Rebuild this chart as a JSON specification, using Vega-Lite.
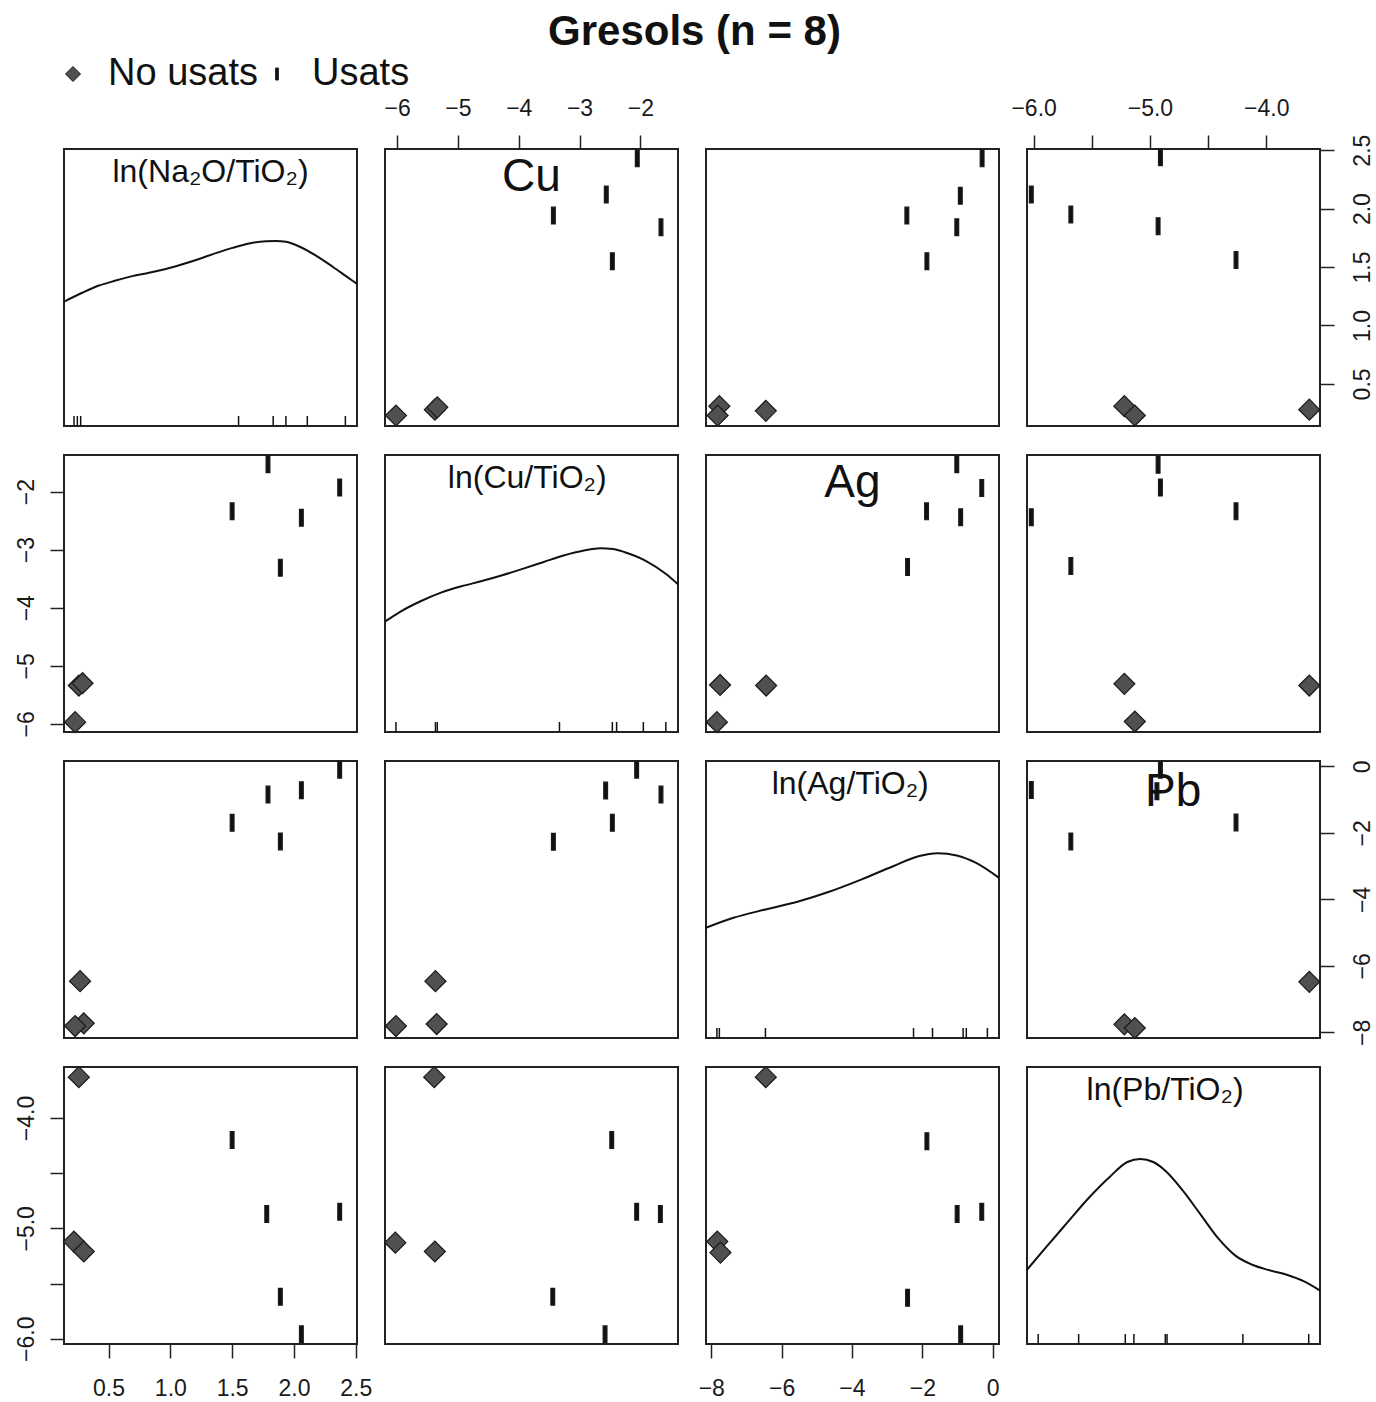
{
  "$schema": "https://vega.github.io/schema/vega-lite/v6.json",
  "padding": {"left": 14, "top": 11, "right": 5, "bottom": 5},
  "title": {"text": "Gresols (n = 8)", "fontSize": 42, "fontWeight": "bold", "anchor": "middle", "color": "#111111", "offset": 1},
  "datasets": {
    "s12": [
      {"Cu": -2.05, "Na": 2.43, "group": "Usats"}, {"Cu": -2.56, "Na": 2.12, "group": "Usats"}, {"Cu": -3.43, "Na": 1.94, "group": "Usats"}, {"Cu": -1.66, "Na": 1.84, "group": "Usats"}, {"Cu": -2.46, "Na": 1.55, "group": "Usats"},
      {"Cu": -6.02, "Na": 0.23, "group": "No usats"}, {"Cu": -5.38, "Na": 0.28, "group": "No usats"}, {"Cu": -5.34, "Na": 0.30, "group": "No usats"}
    ],
    "s13": [
      {"Ag": -0.30, "Na": 2.43, "group": "Usats"}, {"Ag": -0.92, "Na": 2.11, "group": "Usats"}, {"Ag": -2.44, "Na": 1.94, "group": "Usats"}, {"Ag": -1.02, "Na": 1.84, "group": "Usats"}, {"Ag": -1.87, "Na": 1.55, "group": "Usats"},
      {"Ag": -7.77, "Na": 0.31, "group": "No usats"}, {"Ag": -7.82, "Na": 0.23, "group": "No usats"}, {"Ag": -6.45, "Na": 0.27, "group": "No usats"}
    ],
    "s14": [
      {"Pb": -4.91, "Na": 2.44, "group": "Usats"}, {"Pb": -6.02, "Na": 2.12, "group": "Usats"}, {"Pb": -5.68, "Na": 1.95, "group": "Usats"}, {"Pb": -4.93, "Na": 1.85, "group": "Usats"}, {"Pb": -4.26, "Na": 1.56, "group": "Usats"},
      {"Pb": -5.22, "Na": 0.31, "group": "No usats"}, {"Pb": -5.13, "Na": 0.23, "group": "No usats"}, {"Pb": -3.63, "Na": 0.28, "group": "No usats"}
    ],
    "s21": [
      {"Na": 1.79, "Cu": -1.53, "group": "Usats"}, {"Na": 2.37, "Cu": -1.93, "group": "Usats"}, {"Na": 1.50, "Cu": -2.34, "group": "Usats"}, {"Na": 2.06, "Cu": -2.45, "group": "Usats"}, {"Na": 1.89, "Cu": -3.31, "group": "Usats"},
      {"Na": 0.26, "Cu": -5.34, "group": "No usats"}, {"Na": 0.29, "Cu": -5.30, "group": "No usats"}, {"Na": 0.23, "Cu": -5.97, "group": "No usats"}
    ],
    "s23": [
      {"Ag": -1.02, "Cu": -1.53, "group": "Usats"}, {"Ag": -0.31, "Cu": -1.94, "group": "Usats"}, {"Ag": -1.88, "Cu": -2.34, "group": "Usats"}, {"Ag": -0.91, "Cu": -2.44, "group": "Usats"}, {"Ag": -2.42, "Cu": -3.30, "group": "Usats"},
      {"Ag": -7.75, "Cu": -5.33, "group": "No usats"}, {"Ag": -6.44, "Cu": -5.34, "group": "No usats"}, {"Ag": -7.84, "Cu": -5.97, "group": "No usats"}
    ],
    "s24": [
      {"Pb": -4.93, "Cu": -1.54, "group": "Usats"}, {"Pb": -4.91, "Cu": -1.93, "group": "Usats"}, {"Pb": -6.02, "Cu": -2.44, "group": "Usats"}, {"Pb": -4.26, "Cu": -2.34, "group": "Usats"}, {"Pb": -5.68, "Cu": -3.28, "group": "Usats"},
      {"Pb": -5.22, "Cu": -5.31, "group": "No usats"}, {"Pb": -3.63, "Cu": -5.34, "group": "No usats"}, {"Pb": -5.13, "Cu": -5.96, "group": "No usats"}
    ],
    "s31": [
      {"Na": 2.37, "Ag": -0.10, "group": "Usats"}, {"Na": 1.79, "Ag": -0.85, "group": "Usats"}, {"Na": 2.06, "Ag": -0.72, "group": "Usats"}, {"Na": 1.50, "Ag": -1.70, "group": "Usats"}, {"Na": 1.89, "Ag": -2.26, "group": "Usats"},
      {"Na": 0.27, "Ag": -6.46, "group": "No usats"}, {"Na": 0.30, "Ag": -7.73, "group": "No usats"}, {"Na": 0.23, "Ag": -7.81, "group": "No usats"}
    ],
    "s32": [
      {"Cu": -2.06, "Ag": -0.10, "group": "Usats"}, {"Cu": -2.57, "Ag": -0.73, "group": "Usats"}, {"Cu": -1.66, "Ag": -0.85, "group": "Usats"}, {"Cu": -2.46, "Ag": -1.70, "group": "Usats"}, {"Cu": -3.43, "Ag": -2.27, "group": "Usats"},
      {"Cu": -5.37, "Ag": -6.46, "group": "No usats"}, {"Cu": -5.35, "Ag": -7.75, "group": "No usats"}, {"Cu": -6.02, "Ag": -7.81, "group": "No usats"}
    ],
    "s34": [
      {"Pb": -4.91, "Ag": -0.10, "group": "Usats"}, {"Pb": -4.94, "Ag": -0.75, "group": "Usats"}, {"Pb": -6.02, "Ag": -0.71, "group": "Usats"}, {"Pb": -4.26, "Ag": -1.69, "group": "Usats"}, {"Pb": -5.68, "Ag": -2.26, "group": "Usats"},
      {"Pb": -3.63, "Ag": -6.48, "group": "No usats"}, {"Pb": -5.22, "Ag": -7.76, "group": "No usats"}, {"Pb": -5.13, "Ag": -7.87, "group": "No usats"}
    ],
    "s41": [
      {"Na": 1.50, "Pb": -4.20, "group": "Usats"}, {"Na": 1.78, "Pb": -4.87, "group": "Usats"}, {"Na": 2.37, "Pb": -4.85, "group": "Usats"}, {"Na": 1.89, "Pb": -5.62, "group": "Usats"}, {"Na": 2.06, "Pb": -5.96, "group": "Usats"},
      {"Na": 0.26, "Pb": -3.63, "group": "No usats"}, {"Na": 0.22, "Pb": -5.12, "group": "No usats"}, {"Na": 0.30, "Pb": -5.21, "group": "No usats"}
    ],
    "s42": [
      {"Cu": -2.47, "Pb": -4.20, "group": "Usats"}, {"Cu": -2.06, "Pb": -4.85, "group": "Usats"}, {"Cu": -1.67, "Pb": -4.87, "group": "Usats"}, {"Cu": -3.44, "Pb": -5.62, "group": "Usats"}, {"Cu": -2.58, "Pb": -5.96, "group": "Usats"},
      {"Cu": -5.39, "Pb": -3.63, "group": "No usats"}, {"Cu": -6.03, "Pb": -5.13, "group": "No usats"}, {"Cu": -5.38, "Pb": -5.21, "group": "No usats"}
    ],
    "s43": [
      {"Ag": -1.87, "Pb": -4.21, "group": "Usats"}, {"Ag": -1.01, "Pb": -4.87, "group": "Usats"}, {"Ag": -0.31, "Pb": -4.85, "group": "Usats"}, {"Ag": -2.42, "Pb": -5.63, "group": "Usats"}, {"Ag": -0.91, "Pb": -5.96, "group": "Usats"},
      {"Ag": -6.45, "Pb": -3.63, "group": "No usats"}, {"Ag": -7.83, "Pb": -5.12, "group": "No usats"}, {"Ag": -7.74, "Pb": -5.22, "group": "No usats"}
    ],
    "dNa": [
      {"Na": 0.145, "density": 0.450}, {"Na": 0.288, "density": 0.481}, {"Na": 0.423, "density": 0.507}, {"Na": 0.558, "density": 0.525}, {"Na": 0.693, "density": 0.541}, {"Na": 0.828, "density": 0.553}, {"Na": 0.963, "density": 0.567}, {"Na": 1.098, "density": 0.584}, {"Na": 1.233, "density": 0.603}, {"Na": 1.368, "density": 0.624}, {"Na": 1.503, "density": 0.643}, {"Na": 1.638, "density": 0.659}, {"Na": 1.773, "density": 0.667}, {"Na": 1.854, "density": 0.668}, {"Na": 1.935, "density": 0.665}, {"Na": 2.043, "density": 0.648}, {"Na": 2.178, "density": 0.615}, {"Na": 2.313, "density": 0.575}, {"Na": 2.421, "density": 0.541}, {"Na": 2.510, "density": 0.513}
    ],
    "dCu": [
      {"Cu": -6.19, "density": 0.400}, {"Cu": -5.951, "density": 0.434}, {"Cu": -5.615, "density": 0.472}, {"Cu": -5.279, "density": 0.503}, {"Cu": -4.943, "density": 0.526}, {"Cu": -4.607, "density": 0.545}, {"Cu": -4.271, "density": 0.566}, {"Cu": -3.935, "density": 0.589}, {"Cu": -3.599, "density": 0.613}, {"Cu": -3.263, "density": 0.637}, {"Cu": -2.926, "density": 0.655}, {"Cu": -2.658, "density": 0.663}, {"Cu": -2.456, "density": 0.661}, {"Cu": -2.254, "density": 0.649}, {"Cu": -1.918, "density": 0.619}, {"Cu": -1.582, "density": 0.571}, {"Cu": -1.38, "density": 0.533}
    ],
    "dAg": [
      {"Ag": -8.15, "density": 0.398}, {"Ag": -7.37, "density": 0.434}, {"Ag": -6.46, "density": 0.464}, {"Ag": -5.55, "density": 0.492}, {"Ag": -4.65, "density": 0.528}, {"Ag": -3.74, "density": 0.572}, {"Ag": -2.83, "density": 0.620}, {"Ag": -2.11, "density": 0.656}, {"Ag": -1.56, "density": 0.667}, {"Ag": -1.02, "density": 0.659}, {"Ag": -0.47, "density": 0.632}, {"Ag": 0.18, "density": 0.578}
    ],
    "dPb": [
      {"Pb": -6.057, "density": 0.268}, {"Pb": -5.898, "density": 0.347}, {"Pb": -5.713, "density": 0.437}, {"Pb": -5.527, "density": 0.527}, {"Pb": -5.342, "density": 0.605}, {"Pb": -5.194, "density": 0.657}, {"Pb": -5.083, "density": 0.668}, {"Pb": -4.972, "density": 0.657}, {"Pb": -4.861, "density": 0.623}, {"Pb": -4.712, "density": 0.551}, {"Pb": -4.564, "density": 0.467}, {"Pb": -4.416, "density": 0.383}, {"Pb": -4.268, "density": 0.320}, {"Pb": -4.120, "density": 0.286}, {"Pb": -3.972, "density": 0.266}, {"Pb": -3.824, "density": 0.250}, {"Pb": -3.675, "density": 0.226}, {"Pb": -3.538, "density": 0.193}
    ],
    "rNa": [{"Na": 0.221}, {"Na": 0.248}, {"Na": 0.275}, {"Na": 1.552}, {"Na": 1.832}, {"Na": 1.935}, {"Na": 2.108}, {"Na": 2.416}],
    "rCu": [{"Cu": -6.02}, {"Cu": -5.37}, {"Cu": -5.34}, {"Cu": -3.33}, {"Cu": -2.46}, {"Cu": -2.39}, {"Cu": -1.95}, {"Cu": -1.58}],
    "rAg": [{"Ag": -7.84}, {"Ag": -7.77}, {"Ag": -6.46}, {"Ag": -2.25}, {"Ag": -1.71}, {"Ag": -0.84}, {"Ag": -0.75}, {"Ag": -0.15}],
    "rPb": [{"Pb": -5.961}, {"Pb": -5.613}, {"Pb": -5.212}, {"Pb": -5.138}, {"Pb": -4.868}, {"Pb": -4.853}, {"Pb": -4.201}, {"Pb": -3.635}]
  },
  "columns": 4,
  "spacing": {"row": 29, "column": 28},
  "bounds": "flush",
  "resolve": {"scale": {"shape": "shared", "color": "shared"}, "legend": {"shape": "shared", "color": "shared"}},
  "concat": [
    {"width": 293, "height": 277, "layer": [
      {"data": {"name": "dNa"}, "mark": {"type": "line", "color": "#111111", "strokeWidth": 2, "interpolate": "monotone"},
       "encoding": {"x": {"field": "Na", "type": "quantitative", "scale": {"domain": [0.14, 2.51], "nice": false, "zero": false}, "axis": null},
                    "y": {"field": "density", "type": "quantitative", "scale": {"domain": [0, 1], "nice": false}, "axis": null}}},
      {"data": {"name": "rNa"}, "mark": {"type": "rule", "color": "#111111", "strokeWidth": 1.5},
       "encoding": {"x": {"field": "Na", "type": "quantitative"}, "y": {"datum": 0}, "y2": {"datum": 0.036}}},
      {"data": {"values": [{"label": "ln(Na₂O/TiO₂)"}]}, "mark": {"type": "text", "fontSize": 32, "color": "#111111"},
       "encoding": {"text": {"field": "label"}, "x": {"datum": 1.325}, "y": {"datum": 0.918}}}
    ]},
    {"width": 293, "height": 277, "layer": [
      {"data": {"name": "s12"}, "mark": {"type": "point", "filled": true, "opacity": 1, "size": 441, "stroke": "#1a1a1a", "strokeWidth": 1.2},
       "encoding": {
         "x": {"field": "Cu", "type": "quantitative", "scale": {"domain": [-6.2, -1.38], "nice": false, "zero": false}, "axis": {"orient": "top", "values": [-6, -5, -4, -3, -2], "format": "d"}},
         "y": {"field": "Na", "type": "quantitative", "scale": {"domain": [0.14, 2.51], "nice": false, "zero": false}, "axis": null},
         "shape": {"field": "group", "type": "nominal", "title": null, "scale": {"domain": ["No usats", "Usats"], "range": ["diamond", "M-0.18,-0.8L0.18,-0.8L0.18,0.8L-0.18,0.8Z"]}},
         "color": {"field": "group", "type": "nominal", "title": null, "scale": {"domain": ["No usats", "Usats"], "range": ["#505050", "#111111"]}}
       }},
      {"data": {"values": [{"label": "Cu"}]}, "mark": {"type": "text", "fontSize": 46, "color": "#111111"},
       "encoding": {"text": {"field": "label"}, "x": {"datum": -3.79}, "y": {"datum": 2.27}}}
    ]},
    {"width": 293, "height": 277, "layer": [
      {"data": {"name": "s13"}, "mark": {"type": "point", "filled": true, "opacity": 1, "size": 441, "stroke": "#1a1a1a", "strokeWidth": 1.2},
       "encoding": {
         "x": {"field": "Ag", "type": "quantitative", "scale": {"domain": [-8.15, 0.18], "nice": false, "zero": false}, "axis": null},
         "y": {"field": "Na", "type": "quantitative", "scale": {"domain": [0.14, 2.51], "nice": false, "zero": false}, "axis": null},
         "shape": {"field": "group", "type": "nominal", "title": null},
         "color": {"field": "group", "type": "nominal", "title": null}
       }}
    ]},
    {"width": 293, "height": 277, "layer": [
      {"data": {"name": "s14"}, "mark": {"type": "point", "filled": true, "opacity": 1, "size": 441, "stroke": "#1a1a1a", "strokeWidth": 1.2},
       "encoding": {
         "x": {"field": "Pb", "type": "quantitative", "scale": {"domain": [-6.057, -3.538], "nice": false, "zero": false}, "axis": {"orient": "top", "values": [-6, -5.5, -5, -4.5, -4], "format": ".1f", "labelExpr": "datum.value % 1 === 0 ? datum.label : ''"}},
         "y": {"field": "Na", "type": "quantitative", "scale": {"domain": [0.14, 2.51], "nice": false, "zero": false}, "axis": {"orient": "right", "values": [0.5, 1, 1.5, 2, 2.5], "format": ".1f"}},
         "shape": {"field": "group", "type": "nominal", "title": null},
         "color": {"field": "group", "type": "nominal", "title": null}
       }}
    ]},
    {"width": 293, "height": 277, "layer": [
      {"data": {"name": "s21"}, "mark": {"type": "point", "filled": true, "opacity": 1, "size": 441, "stroke": "#1a1a1a", "strokeWidth": 1.2},
       "encoding": {
         "x": {"field": "Na", "type": "quantitative", "scale": {"domain": [0.14, 2.51], "nice": false, "zero": false}, "axis": null},
         "y": {"field": "Cu", "type": "quantitative", "scale": {"domain": [-6.14, -1.37], "nice": false, "zero": false}, "axis": {"orient": "left", "values": [-6, -5, -4, -3, -2], "format": "d"}},
         "shape": {"field": "group", "type": "nominal", "title": null},
         "color": {"field": "group", "type": "nominal", "title": null}
       }}
    ]},
    {"width": 293, "height": 277, "layer": [
      {"data": {"name": "dCu"}, "mark": {"type": "line", "color": "#111111", "strokeWidth": 2, "interpolate": "monotone"},
       "encoding": {"x": {"field": "Cu", "type": "quantitative", "scale": {"domain": [-6.2, -1.38], "nice": false, "zero": false}, "axis": null},
                    "y": {"field": "density", "type": "quantitative", "scale": {"domain": [0, 1], "nice": false}, "axis": null}}},
      {"data": {"name": "rCu"}, "mark": {"type": "rule", "color": "#111111", "strokeWidth": 1.5},
       "encoding": {"x": {"field": "Cu", "type": "quantitative"}, "y": {"datum": 0}, "y2": {"datum": 0.036}}},
      {"data": {"values": [{"label": "ln(Cu/TiO₂)"}]}, "mark": {"type": "text", "fontSize": 32, "color": "#111111"},
       "encoding": {"text": {"field": "label"}, "x": {"datum": -3.86}, "y": {"datum": 0.918}}}
    ]},
    {"width": 293, "height": 277, "layer": [
      {"data": {"name": "s23"}, "mark": {"type": "point", "filled": true, "opacity": 1, "size": 441, "stroke": "#1a1a1a", "strokeWidth": 1.2},
       "encoding": {
         "x": {"field": "Ag", "type": "quantitative", "scale": {"domain": [-8.15, 0.18], "nice": false, "zero": false}, "axis": null},
         "y": {"field": "Cu", "type": "quantitative", "scale": {"domain": [-6.14, -1.37], "nice": false, "zero": false}, "axis": null},
         "shape": {"field": "group", "type": "nominal", "title": null},
         "color": {"field": "group", "type": "nominal", "title": null}
       }},
      {"data": {"values": [{"label": "Ag"}]}, "mark": {"type": "text", "fontSize": 46, "color": "#111111"},
       "encoding": {"text": {"field": "label"}, "x": {"datum": -3.99}, "y": {"datum": -1.85}}}
    ]},
    {"width": 293, "height": 277, "layer": [
      {"data": {"name": "s24"}, "mark": {"type": "point", "filled": true, "opacity": 1, "size": 441, "stroke": "#1a1a1a", "strokeWidth": 1.2},
       "encoding": {
         "x": {"field": "Pb", "type": "quantitative", "scale": {"domain": [-6.057, -3.538], "nice": false, "zero": false}, "axis": null},
         "y": {"field": "Cu", "type": "quantitative", "scale": {"domain": [-6.14, -1.37], "nice": false, "zero": false}, "axis": null},
         "shape": {"field": "group", "type": "nominal", "title": null},
         "color": {"field": "group", "type": "nominal", "title": null}
       }}
    ]},
    {"width": 293, "height": 277, "layer": [
      {"data": {"name": "s31"}, "mark": {"type": "point", "filled": true, "opacity": 1, "size": 441, "stroke": "#1a1a1a", "strokeWidth": 1.2},
       "encoding": {
         "x": {"field": "Na", "type": "quantitative", "scale": {"domain": [0.14, 2.51], "nice": false, "zero": false}, "axis": null},
         "y": {"field": "Ag", "type": "quantitative", "scale": {"domain": [-8.17, 0.16], "nice": false, "zero": false}, "axis": null},
         "shape": {"field": "group", "type": "nominal", "title": null},
         "color": {"field": "group", "type": "nominal", "title": null}
       }}
    ]},
    {"width": 293, "height": 277, "layer": [
      {"data": {"name": "s32"}, "mark": {"type": "point", "filled": true, "opacity": 1, "size": 441, "stroke": "#1a1a1a", "strokeWidth": 1.2},
       "encoding": {
         "x": {"field": "Cu", "type": "quantitative", "scale": {"domain": [-6.2, -1.38], "nice": false, "zero": false}, "axis": null},
         "y": {"field": "Ag", "type": "quantitative", "scale": {"domain": [-8.17, 0.16], "nice": false, "zero": false}, "axis": null},
         "shape": {"field": "group", "type": "nominal", "title": null},
         "color": {"field": "group", "type": "nominal", "title": null}
       }}
    ]},
    {"width": 293, "height": 277, "layer": [
      {"data": {"name": "dAg"}, "mark": {"type": "line", "color": "#111111", "strokeWidth": 2, "interpolate": "monotone"},
       "encoding": {"x": {"field": "Ag", "type": "quantitative", "scale": {"domain": [-8.15, 0.18], "nice": false, "zero": false}, "axis": null},
                    "y": {"field": "density", "type": "quantitative", "scale": {"domain": [0, 1], "nice": false}, "axis": null}}},
      {"data": {"name": "rAg"}, "mark": {"type": "rule", "color": "#111111", "strokeWidth": 1.5},
       "encoding": {"x": {"field": "Ag", "type": "quantitative"}, "y": {"datum": 0}, "y2": {"datum": 0.036}}},
      {"data": {"values": [{"label": "ln(Ag/TiO₂)"}]}, "mark": {"type": "text", "fontSize": 32, "color": "#111111"},
       "encoding": {"text": {"field": "label"}, "x": {"datum": -4.05}, "y": {"datum": 0.918}}}
    ]},
    {"width": 293, "height": 277, "layer": [
      {"data": {"name": "s34"}, "mark": {"type": "point", "filled": true, "opacity": 1, "size": 441, "stroke": "#1a1a1a", "strokeWidth": 1.2},
       "encoding": {
         "x": {"field": "Pb", "type": "quantitative", "scale": {"domain": [-6.057, -3.538], "nice": false, "zero": false}, "axis": null},
         "y": {"field": "Ag", "type": "quantitative", "scale": {"domain": [-8.17, 0.16], "nice": false, "zero": false}, "axis": {"orient": "right", "values": [-8, -6, -4, -2, 0], "format": "d"}},
         "shape": {"field": "group", "type": "nominal", "title": null},
         "color": {"field": "group", "type": "nominal", "title": null}
       }},
      {"data": {"values": [{"label": "Pb"}]}, "mark": {"type": "text", "fontSize": 46, "color": "#111111"},
       "encoding": {"text": {"field": "label"}, "x": {"datum": -4.80}, "y": {"datum": -0.77}}}
    ]},
    {"width": 293, "height": 277, "layer": [
      {"data": {"name": "s41"}, "mark": {"type": "point", "filled": true, "opacity": 1, "size": 441, "stroke": "#1a1a1a", "strokeWidth": 1.2},
       "encoding": {
         "x": {"field": "Na", "type": "quantitative", "scale": {"domain": [0.14, 2.51], "nice": false, "zero": false}, "axis": {"orient": "bottom", "values": [0.5, 1, 1.5, 2, 2.5], "format": ".1f"}},
         "y": {"field": "Pb", "type": "quantitative", "scale": {"domain": [-6.048, -3.538], "nice": false, "zero": false}, "axis": {"orient": "left", "values": [-6, -5.5, -5, -4.5, -4], "format": ".1f", "labelExpr": "datum.value % 1 === 0 ? datum.label : ''"}},
         "shape": {"field": "group", "type": "nominal", "title": null},
         "color": {"field": "group", "type": "nominal", "title": null}
       }}
    ]},
    {"width": 293, "height": 277, "layer": [
      {"data": {"name": "s42"}, "mark": {"type": "point", "filled": true, "opacity": 1, "size": 441, "stroke": "#1a1a1a", "strokeWidth": 1.2},
       "encoding": {
         "x": {"field": "Cu", "type": "quantitative", "scale": {"domain": [-6.2, -1.38], "nice": false, "zero": false}, "axis": null},
         "y": {"field": "Pb", "type": "quantitative", "scale": {"domain": [-6.048, -3.538], "nice": false, "zero": false}, "axis": null},
         "shape": {"field": "group", "type": "nominal", "title": null},
         "color": {"field": "group", "type": "nominal", "title": null}
       }}
    ]},
    {"width": 293, "height": 277, "layer": [
      {"data": {"name": "s43"}, "mark": {"type": "point", "filled": true, "opacity": 1, "size": 441, "stroke": "#1a1a1a", "strokeWidth": 1.2},
       "encoding": {
         "x": {"field": "Ag", "type": "quantitative", "scale": {"domain": [-8.15, 0.18], "nice": false, "zero": false}, "axis": {"orient": "bottom", "values": [-8, -6, -4, -2, 0], "format": "d"}},
         "y": {"field": "Pb", "type": "quantitative", "scale": {"domain": [-6.048, -3.538], "nice": false, "zero": false}, "axis": null},
         "shape": {"field": "group", "type": "nominal", "title": null},
         "color": {"field": "group", "type": "nominal", "title": null}
       }}
    ]},
    {"width": 293, "height": 277, "layer": [
      {"data": {"name": "dPb"}, "mark": {"type": "line", "color": "#111111", "strokeWidth": 2, "interpolate": "monotone"},
       "encoding": {"x": {"field": "Pb", "type": "quantitative", "scale": {"domain": [-6.057, -3.538], "nice": false, "zero": false}, "axis": null},
                    "y": {"field": "density", "type": "quantitative", "scale": {"domain": [0, 1], "nice": false}, "axis": null}}},
      {"data": {"name": "rPb"}, "mark": {"type": "rule", "color": "#111111", "strokeWidth": 1.5},
       "encoding": {"x": {"field": "Pb", "type": "quantitative"}, "y": {"datum": 0}, "y2": {"datum": 0.036}}},
      {"data": {"values": [{"label": "ln(Pb/TiO₂)"}]}, "mark": {"type": "text", "fontSize": 32, "color": "#111111"},
       "encoding": {"text": {"field": "label"}, "x": {"datum": -4.87}, "y": {"datum": 0.918}}}
    ]}
  ],
  "config": {
    "font": "Liberation Sans",
    "background": "white",
    "view": {"stroke": "#222222", "strokeWidth": 2},
    "axis": {"domain": false, "grid": false, "ticks": true, "tickSize": 14, "tickWidth": 1.5, "tickColor": "#222222", "labelFontSize": 23, "labelColor": "#1a1a1a", "labelFlush": false, "labelOverlap": false, "labelPadding": 10, "title": null},
    "axisTop": {"labelPadding": 15},
    "axisBottom": {"labelPadding": 19},
    "axisY": {"labelAngle": -90},
    "axisLeft": {"labelPadding": 12},
    "axisRight": {"labelPadding": 17},
    "legend": {"orient": "none", "legendX": -10, "legendY": -94, "direction": "horizontal", "labelFontSize": 38, "labelColor": "#111111", "symbolSize": 225, "labelOffset": 16, "columnPadding": -4, "symbolStrokeWidth": 1}
  }
}
